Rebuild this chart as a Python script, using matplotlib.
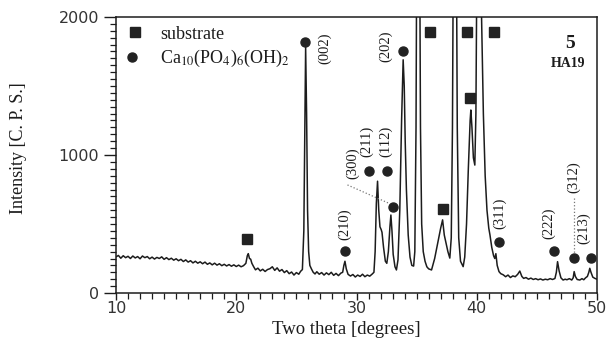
import matplotlib
matplotlib.use("Agg")
import matplotlib.pyplot as plt
from matplotlib.ticker import MultipleLocator, FixedLocator

plt.rcParams['mathtext.fontset'] = 'stix'

# ---- data: XRD trace (two theta in degrees, intensity in C.P.S.) ----
two_theta = [
    10.0, 10.2, 10.4, 10.6, 10.8, 11.0, 11.2, 11.4, 11.6, 11.8,
    12.0, 12.2, 12.4, 12.6, 12.8, 13.0, 13.2, 13.4, 13.6, 13.8,
    14.0, 14.2, 14.4, 14.6, 14.8, 15.0, 15.2, 15.4, 15.6, 15.8,
    16.0, 16.2, 16.4, 16.6, 16.8, 17.0, 17.2, 17.4, 17.6, 17.8,
    18.0, 18.2, 18.4, 18.6, 18.8, 19.0, 19.2, 19.4, 19.6, 19.8,
    20.0, 20.2, 20.4, 20.6, 20.8, 20.92, 21.0, 21.1, 21.2, 21.3,
    21.45, 21.6, 21.8, 22.0, 22.2, 22.4, 22.6, 22.8, 23.0, 23.2,
    23.4, 23.6, 23.8, 24.0, 24.2, 24.4, 24.6, 24.8, 25.0, 25.2,
    25.35, 25.5, 25.62, 25.7, 25.77, 25.85, 25.93, 26.02, 26.12, 26.25,
    26.4, 26.55, 26.7, 26.9, 27.1, 27.3, 27.5, 27.7, 27.9, 28.1,
    28.3, 28.5, 28.7, 28.85, 28.95, 29.04, 29.15, 29.3, 29.5, 29.7,
    29.9, 30.1, 30.3, 30.5, 30.7, 30.9, 31.1, 31.3, 31.45, 31.55,
    31.65, 31.75, 31.85, 31.95, 32.05, 32.12, 32.25, 32.4, 32.52, 32.65,
    32.78, 32.86, 32.95, 33.05, 33.2, 33.32, 33.45, 33.6, 33.75, 33.88,
    33.97, 34.05, 34.15, 34.3, 34.45, 34.6, 34.75, 34.85, 34.95, 35.03,
    35.13, 35.23, 35.32, 35.42, 35.55, 35.7, 35.85, 36.0, 36.24, 36.5,
    36.8, 37.0, 37.16, 37.3, 37.45, 37.6, 37.76, 37.88, 37.98, 38.08,
    38.18, 38.28, 38.38, 38.5, 38.65, 38.87, 39.0, 39.15, 39.3, 39.45,
    39.51, 39.6, 39.72, 39.84, 39.93, 40.02, 40.17, 40.3, 40.4, 40.55,
    40.7, 40.85, 41.0, 41.1, 41.25, 41.4, 41.5, 41.59, 41.7, 41.85,
    42.0, 42.2, 42.4, 42.6, 42.8, 43.0, 43.2, 43.4, 43.58, 43.75,
    43.9, 44.1, 44.3, 44.5, 44.7, 44.9, 45.1, 45.3, 45.5, 45.7,
    45.9, 46.1, 46.3, 46.5, 46.62, 46.72, 46.85, 47.0, 47.18, 47.35,
    47.5, 47.7, 47.9, 48.02, 48.1, 48.2, 48.35, 48.57, 48.75, 48.9,
    49.05, 49.2, 49.32, 49.4, 49.5, 49.65, 49.82, 50.0,
]
intensity = [
    262, 272, 252, 270, 256, 266, 250, 268, 254, 264,
    248, 268, 256, 264, 248, 260, 246, 258, 250, 262,
    244, 256, 242, 252, 238, 248, 234, 244, 228, 240,
    224, 234, 218, 230, 216, 226, 212, 224, 208, 218,
    204, 216, 202, 212, 198, 208, 196, 206, 194, 204,
    192, 202, 190, 198, 215, 270, 285, 250, 245, 215,
    190, 168, 180, 160, 172, 156, 170, 176, 190, 164,
    182, 158, 170, 148, 162, 140, 152, 130, 148, 136,
    157, 170, 450, 1200, 1780, 1300, 600, 300, 200, 175,
    150, 138, 154, 136, 148, 130, 146, 133, 150, 128,
    142, 126, 144, 150, 200, 230, 175, 135, 123, 134,
    116, 130, 120, 136, 118, 130, 122, 137, 150, 300,
    650, 810, 600, 480, 460, 440, 330, 230, 215, 300,
    480, 565, 450, 280, 190, 167, 240, 600, 1250, 1690,
    1500, 1100, 750, 420, 260, 200, 195, 300, 1200, 3000,
    5000, 3000, 1200, 500, 300, 230, 190, 175, 167, 250,
    380, 470, 530, 420, 360, 300, 253, 400, 1200, 3000,
    4500, 3000, 1200, 400, 230, 191, 260, 500, 900, 1250,
    1326, 1200, 980, 927, 1300, 2500, 4500, 3200, 2000, 1300,
    850, 600, 470, 420, 330, 270, 250, 285, 200, 155,
    140, 132, 118, 130, 112, 124, 118, 135, 159, 120,
    106, 112, 100, 108, 98, 104, 96, 102, 94, 100,
    96, 104, 98, 105, 150, 227, 160, 110, 94, 100,
    96, 104, 94, 110, 155, 120, 98, 94, 104, 96,
    110, 120, 150, 179, 150, 115, 106, 100,
]

# ---- peak markers ----
substrate_x = [20.86, 36.10, 39.15, 41.42, 39.43, 37.16]
substrate_y = [394, 1889, 1889, 1889, 1411, 606]
ha_x = [25.71, 33.88, 29.04, 31.03, 32.50, 33.00, 41.84, 46.43, 48.05, 49.46]
ha_y = [1817, 1756, 307, 884, 884, 626, 367, 307, 251, 256]

# ---- reflection labels ----
hkl_labels = ['(002)', '(202)', '(300)', '(211)', '(112)', '(210)',
              '(311)', '(222)', '(312)', '(213)']
hkl_x = [27.37, 32.44, 29.70, 30.86, 32.44, 29.04, 41.92, 46.00, 48.07, 48.90]
hkl_y = [1775, 1790, 938, 1101, 1101, 500, 580, 507, 840, 471]

xticks = [10, 20, 30, 40, 50]
yticks = [0, 1000, 2000]

fig = plt.figure(figsize=(6.11, 3.42), dpi=100)
ax = fig.add_axes([116/611, 49/342, 481/611, 276/342])

ink = '#1c1c1c'
ax.plot(two_theta, intensity, color=ink, lw=1.1, solid_joinstyle='round')
ax.plot(substrate_x, substrate_y, ls='none', marker='s', ms=6.5, color='#222222')
ax.plot(ha_x, ha_y, ls='none', marker='o', ms=6.5, color='#222222')

serif = 'Liberation Serif'
for lab, lx, ly in zip(hkl_labels, hkl_x, hkl_y):
    ax.text(lx, ly, lab, rotation=90, ha='center', va='center',
            fontsize=10.5, family=serif, color=ink)

# dotted leader lines
ax.plot([29.25, 32.7], [783, 650], ls=':', lw=0.9, color='#777777')
ax.plot([48.07, 48.07], [690, 280], ls=':', lw=0.9, color='#777777')

# legend (drawn manually)
ax.plot([11.58], [1891], marker='s', ms=6.5, color='#222222', ls='none', clip_on=False)
ax.plot([11.35], [1710], marker='o', ms=6.5, color='#222222', ls='none', clip_on=False)
ax.text(13.66, 1870, 'substrate', fontsize=13, family=serif, color=ink, va='center')
ax.text(13.66, 1700, r'Ca$_{10}$(PO$_4$)$_6$(OH)$_2$', fontsize=13, family=serif,
        color=ink, va='center')

ax.text(0.945, 0.905, '5', transform=ax.transAxes, fontsize=14, fontweight='bold',
        family=serif, ha='center', va='center', color=ink)
ax.text(0.94, 0.83, 'HA19', transform=ax.transAxes, fontsize=10, fontweight='bold',
        family=serif, ha='center', va='center', color=ink)

ax.set_xlim(10, 50)
ax.set_ylim(0, 2000)
ax.xaxis.set_major_locator(FixedLocator(xticks))
ax.yaxis.set_major_locator(FixedLocator(yticks))
ax.xaxis.set_minor_locator(MultipleLocator(1))
ax.yaxis.set_minor_locator(MultipleLocator(50))
ax.tick_params(which='major', direction='out', length=6, width=1.0, color=ink,
               labelsize=11.5, labelcolor='#333333')
ax.tick_params(which='minor', direction='out', length=4, width=0.9, color=ink)
ax.tick_params(axis='x', which='major', pad=0.5, length=5)
ax.tick_params(axis='y', which='major', pad=3, length=9)
for lab in ax.get_xticklabels() + ax.get_yticklabels():
    lab.set_family('DejaVu Sans')
for s in ax.spines.values():
    s.set_linewidth(1.1)
    s.set_color(ink)

fig.text(346.5/611, 1 - 329/342, 'Two theta [degrees]', fontsize=13.5, family=serif,
         ha='center', va='center', color=ink)
fig.text(19/611, 1 - 148.5/342, 'Intensity [C. P. S.]', fontsize=13, family=serif,
         rotation=90, ha='center', va='center', color=ink)

fig.savefig('out.png', dpi=100)
